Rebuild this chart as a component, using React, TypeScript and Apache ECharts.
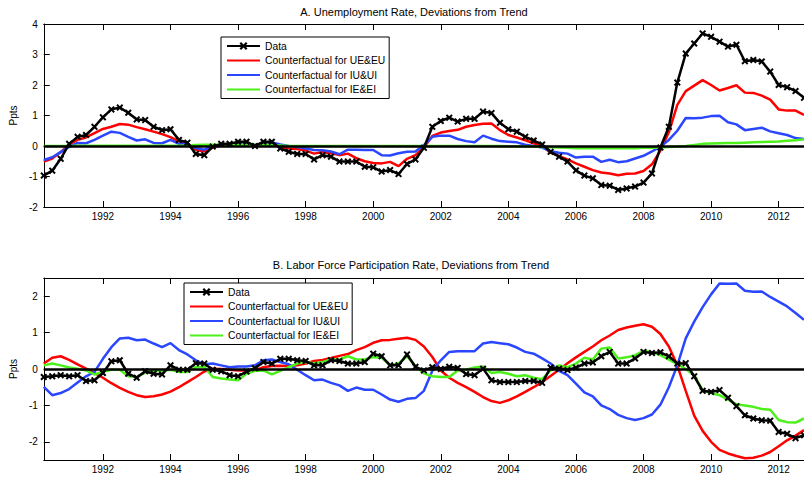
import React, { useEffect, useRef } from "react";
import * as echarts from "echarts";

const FONT = '"Liberation Sans", Arial, Helvetica, sans-serif';

// Quarterly observations, first quarter shown: 1990 Q2 (1990.25)
const START_YEAR = 1990.25;

const yearTicks = [1992, 1994, 1996, 1998, 2000, 2002, 2004, 2006, 2008, 2010, 2012];
const unempTicks = [-2, -1, 0, 1, 2, 3, 4];
const partTicks = [-2, -1, 0, 1, 2];

const seriesNames = [
  "Data",
  "Counterfactual for UE&EU",
  "Counterfactual for IU&UI",
  "Counterfactual for IE&EI",
];

const panelTitles = [
  "A. Unemployment Rate, Deviations from Trend",
  "B. Labor Force Participation Rate, Deviations from Trend",
];

// Panel A: unemployment rate
const unempData = [
  -0.97, -0.81, -0.42, 0.07, 0.3, 0.36, 0.63, 0.94, 1.2, 1.26,
  1.09, 0.87, 0.85, 0.63, 0.52, 0.55, 0.2, 0.11, -0.26, -0.3,
  -0.02, 0.07, 0.07, 0.14, 0.14, 0.0, 0.14, 0.14, -0.08, -0.19,
  -0.26, -0.26, -0.44, -0.3, -0.35, -0.51, -0.51, -0.51, -0.68, -0.7,
  -0.84, -0.79, -0.92, -0.59, -0.44, -0.06, 0.63, 0.82, 0.93, 0.8,
  0.89, 0.89, 1.13, 1.08, 0.76, 0.55, 0.47, 0.3, 0.18, 0.05,
  -0.19, -0.35, -0.51, -0.8, -0.97, -1.06, -1.28, -1.3, -1.44, -1.39,
  -1.33, -1.2, -0.9, -0.05, 0.63, 2.08, 3.03, 3.36, 3.69, 3.58,
  3.42, 3.26, 3.32, 2.78, 2.82, 2.77, 2.44, 2.0, 1.93, 1.8, 1.58,
];
const unempUE = [
  -0.51, -0.41, -0.2, 0.05, 0.2, 0.28, 0.42, 0.56, 0.63, 0.72,
  0.7, 0.62, 0.55, 0.47, 0.39, 0.29, 0.15, 0.08, -0.12, -0.18,
  -0.05, 0.02, 0.05, 0.08, 0.1, 0.02, 0.05, 0.05, -0.03, -0.08,
  -0.1, -0.15, -0.25, -0.2, -0.24, -0.3, -0.25, -0.4, -0.5, -0.56,
  -0.57, -0.52, -0.66, -0.42, -0.3, -0.05, 0.33, 0.44, 0.49, 0.53,
  0.63, 0.69, 0.73, 0.74, 0.52, 0.36, 0.28, 0.19, 0.09, 0.0,
  -0.22, -0.33, -0.44, -0.57, -0.68, -0.79, -0.87, -0.9, -0.96, -0.91,
  -0.9, -0.82, -0.6, -0.15, 0.45, 1.35, 1.8, 1.98, 2.16, 2.0,
  1.82, 1.9, 1.99, 1.75, 1.74, 1.65, 1.52, 1.2, 1.16, 1.16, 1.02,
];
const unempIU = [
  -0.46, -0.37, -0.2, -0.03, 0.1, 0.09, 0.2, 0.34, 0.47, 0.43,
  0.3, 0.18, 0.22, 0.1, 0.09, 0.2, 0.07, 0.07, -0.07, -0.12,
  -0.02, 0.02, 0.03, 0.05, 0.07, 0.03, 0.09, 0.12, 0.05, 0.0,
  -0.03, -0.08, -0.13, -0.14, -0.18, -0.27, -0.12, -0.12, -0.13, -0.13,
  -0.3, -0.31, -0.24, -0.19, -0.18, 0.03, 0.3, 0.34, 0.34, 0.23,
  0.16, 0.12, 0.34, 0.24, 0.16, 0.14, 0.12, 0.04, 0.0, -0.05,
  -0.17, -0.22, -0.25, -0.38, -0.35, -0.35, -0.52, -0.45, -0.53, -0.5,
  -0.41, -0.32, -0.18, -0.02, 0.2, 0.5, 0.92, 0.91, 0.93, 0.98,
  0.99, 0.78, 0.71, 0.52, 0.56, 0.6, 0.48, 0.42, 0.36, 0.26, 0.23,
];
const unempIE = [
  0, 0, 0, 0, 0.01, 0.01, 0.01, 0.01, 0.01, 0.01,
  0.01, 0.01, 0.01, 0.01, 0.01, 0.01, 0.01, 0.02, 0.03, 0.04,
  0.04, 0.04, 0.04, 0.04, 0.04, 0.04, 0.04, 0.03, 0.02, 0,
  0, 0, 0, 0, 0, 0, 0, 0, 0, 0,
  0, 0, 0, 0, 0, 0, 0, 0, 0, 0,
  0, 0, 0, 0, 0, -0.01, -0.01, -0.02, -0.02, -0.03,
  -0.04, -0.05, -0.06, -0.07, -0.07, -0.07, -0.07, -0.07, -0.07, -0.07,
  -0.07, -0.06, -0.06, -0.05, -0.03, -0.02, 0.0, 0.03, 0.07, 0.08,
  0.09, 0.1, 0.1, 0.11, 0.12, 0.13, 0.14, 0.15, 0.17, 0.19, 0.22,
];

// Panel B: labor force participation rate
const partData = [
  -0.22, -0.2, -0.17, -0.2, -0.17, -0.33, -0.31, -0.11, 0.21, 0.24,
  -0.13, -0.24, -0.06, -0.13, -0.15, 0.1, -0.02, -0.02, 0.16, 0.15,
  -0.02, -0.06, -0.17, -0.2, -0.07, 0.02, 0.19, 0.15, 0.28, 0.28,
  0.24, 0.22, 0.1, 0.1, 0.24, 0.22, 0.15, 0.15, 0.19, 0.42,
  0.35, 0.1, 0.1, 0.4, 0.06, -0.04, 0.05, 0.0, 0.06, 0.03,
  -0.14, -0.17, 0.01, -0.31, -0.36, -0.36, -0.36, -0.33, -0.33, -0.38,
  0.04, 0.01, -0.03, 0.04, 0.15, 0.18, 0.35, 0.47, 0.15, 0.15,
  0.29, 0.47, 0.44, 0.46, 0.35, 0.15, 0.16, -0.2, -0.6, -0.63,
  -0.58, -0.79, -1.02, -1.27, -1.36, -1.41, -1.42, -1.73, -1.78, -1.9, -1.82,
];
const partUE = [
  0.15, 0.31, 0.35, 0.25, 0.13, 0.01, -0.11, -0.24, -0.39, -0.52,
  -0.63, -0.72, -0.77, -0.75, -0.7, -0.62, -0.5, -0.36, -0.22, -0.07,
  0.01, 0.0, -0.02, -0.04, -0.04, -0.04, 0.05, 0.08, 0.09, 0.08,
  0.1, 0.15, 0.22, 0.25, 0.3, 0.36, 0.41, 0.52, 0.6, 0.72,
  0.79, 0.8, 0.83, 0.86, 0.8, 0.62, 0.33, -0.04, -0.24, -0.38,
  -0.5, -0.63, -0.77, -0.88, -0.93, -0.86, -0.75, -0.63, -0.5, -0.36,
  -0.19, -0.02, 0.16, 0.32, 0.47, 0.62, 0.79, 0.92, 1.07, 1.14,
  1.19, 1.23, 1.16, 0.96, 0.62, 0.1, -0.6, -1.28, -1.7, -2.0,
  -2.22, -2.32, -2.39, -2.45, -2.44, -2.38, -2.28, -2.12, -1.96, -1.83, -1.68,
];
const partIU = [
  -0.49, -0.72, -0.66, -0.55, -0.37, -0.2, -0.08, 0.28, 0.6, 0.84,
  0.86, 0.79, 0.81, 0.7, 0.6, 0.71, 0.52, 0.4, 0.24, 0.13,
  0.15, 0.1, 0.05, 0.07, 0.07, 0.1, 0.24, 0.26, 0.19, 0.13,
  -0.02, -0.17, -0.31, -0.29, -0.38, -0.45, -0.6, -0.51, -0.57, -0.57,
  -0.7, -0.84, -0.9, -0.82, -0.8, -0.6, -0.05, 0.24, 0.47, 0.49,
  0.49, 0.49, 0.7, 0.74, 0.71, 0.68, 0.59, 0.47, 0.42, 0.29,
  0.15, -0.05, -0.17, -0.4, -0.64, -0.75, -1.0, -1.1, -1.26, -1.35,
  -1.4, -1.35, -1.25, -0.98, -0.5, 0.1, 0.84, 1.3, 1.7, 2.05,
  2.35, 2.34, 2.35, 2.15, 2.12, 2.13, 1.98, 1.85, 1.72, 1.54, 1.35,
];
const partIE = [
  0.1, 0.15, 0.1, 0.04, 0.01, -0.04, -0.15, -0.08, -0.02, -0.02,
  -0.2, -0.22, -0.1, -0.05, -0.05, -0.02, -0.08, -0.08, 0.05, 0.06,
  -0.22, -0.26, -0.29, -0.31, -0.13, -0.05, -0.04, -0.15, -0.05, 0.05,
  0.15, 0.19, 0.16, 0.19, 0.26, 0.26, 0.35, 0.26, 0.26, 0.33,
  0.31, 0.1, 0.15, 0.35, 0.08, -0.12, -0.2, -0.22, -0.22, -0.04,
  -0.02, 0.04, 0.07, -0.11, -0.08, -0.13, -0.2, -0.17, -0.24, -0.28,
  -0.04, 0.1, 0.05, 0.15, 0.31, 0.26, 0.56, 0.59, 0.29, 0.32,
  0.38, 0.5, 0.46, 0.38, 0.26, 0.13, 0.0, -0.17, -0.58, -0.66,
  -0.72, -0.84, -0.97, -1.0, -1.04, -1.1, -1.12, -1.4, -1.46, -1.47, -1.36,
];

const COLORS = { data: "#000000", ue: "#ff0000", iu: "#2a46ff", ie: "#4cf01a" };
const X_SYMBOL =
  "path://M0,2L2,0L5,3L8,0L10,2L7,5L10,8L8,10L5,7L2,10L0,8L3,5Z";

const toPairs = (vals: number[]) => vals.map((v, i) => [START_YEAR + i / 4, v]);

function buildSeries(idx: number, d: number[], ue: number[], iu: number[], ie: number[]) {
  const base = { type: "line", xAxisIndex: idx * 2, yAxisIndex: idx, silent: true };
  const colored = (name: string, vals: number[], color: string) => ({
    ...base,
    name,
    data: toPairs(vals),
    symbol: "circle",
    showSymbol: false,
    lineStyle: { color, width: 2.5 },
    itemStyle: { color, opacity: 0 },
  });
  return [
    colored(seriesNames[1], ue, COLORS.ue),
    colored(seriesNames[2], iu, COLORS.iu),
    colored(seriesNames[3], ie, COLORS.ie),
    {
      ...base,
      name: seriesNames[0],
      data: toPairs(d),
      symbol: X_SYMBOL,
      symbolSize: 7,
      showSymbol: true,
      lineStyle: { color: COLORS.data, width: 2.5 },
      itemStyle: { color: COLORS.data },
      markLine: {
        silent: true,
        symbol: ["none", "none"],
        label: { show: false },
        lineStyle: { color: "#000", width: 2.5, type: "solid" },
        data: [{ yAxis: 0 }],
      },
    },
  ];
}

function xAxes(gridIndex: number) {
  const common = {
    type: "value",
    gridIndex,
    min: 1990.25,
    max: 2012.75,
    splitLine: { show: false },
    axisLine: { show: true, onZero: false, lineStyle: { color: "#000", width: 1 } },
    axisTick: { show: true, inside: true, length: 6, customValues: yearTicks, lineStyle: { color: "#000" } },
  };
  return [
    {
      ...common,
      position: "bottom",
      axisLabel: {
        show: true,
        customValues: yearTicks,
        formatter: (v: number) => String(v),
        margin: 4,
        fontSize: 10,
        color: "#000",
        fontFamily: FONT,
      },
    },
    { ...common, position: "top", axisLabel: { show: false } },
  ];
}

function yAxis(gridIndex: number, min: number, max: number, ticks: number[]) {
  return {
    type: "value",
    gridIndex,
    min,
    max,
    name: "Ppts",
    nameLocation: "middle",
    nameGap: 15,
    nameRotate: 90,
    nameTextStyle: { fontSize: 10, color: "#000", fontFamily: FONT },
    splitLine: { show: false },
    axisLine: { show: true, onZero: false, lineStyle: { color: "#000", width: 1 } },
    axisTick: { show: true, inside: true, length: 6, customValues: ticks, lineStyle: { color: "#000" } },
    axisLabel: {
      customValues: ticks,
      formatter: (v: number) => String(v),
      margin: 6,
      fontSize: 10,
      color: "#000",
      fontFamily: FONT,
    },
  };
}

function legendAt(left: number, top: number) {
  return {
    orient: "vertical",
    left,
    top,
    data: seriesNames,
    itemWidth: 33,
    itemHeight: 10,
    itemGap: 4.5,
    padding: [4, 4, 4, 5],
    borderColor: "#000",
    borderWidth: 1,
    backgroundColor: "#fff",
    selectedMode: false,
    textStyle: { fontSize: 10.3, color: "#000", fontFamily: FONT },
    z: 10,
  };
}

export default function App() {
  const ref = useRef<HTMLDivElement>(null);
  useEffect(() => {
    if (!ref.current) return;
    const chart = echarts.init(ref.current, undefined, { renderer: "svg" });
    chart.setOption({
      animation: false,
      backgroundColor: "#fff",
      grid: [
        { left: 41, top: 24, right: 0, height: 183 },
        { left: 41, top: 278, right: 0, height: 182 },
      ],
      xAxis: [...xAxes(0), ...xAxes(1)],
      yAxis: [yAxis(0, -2, 4, unempTicks), yAxis(1, -2.5, 2.5, partTicks)],
      legend: [legendAt(221, 37), legendAt(184, 283)],
      graphic: [
        {
          type: "text",
          x: 414,
          y: 12,
          style: { text: panelTitles[0], fontSize: 11, fontFamily: FONT, fill: "#000", textAlign: "center", textVerticalAlign: "middle" },
        },
        {
          type: "text",
          x: 411,
          y: 265,
          style: { text: panelTitles[1], fontSize: 11, fontFamily: FONT, fill: "#000", textAlign: "center", textVerticalAlign: "middle" },
        },
      ],
      series: [
        ...buildSeries(0, unempData, unempUE, unempIU, unempIE),
        ...buildSeries(1, partData, partUE, partIU, partIE),
      ],
    });
    return () => chart.dispose();
  }, []);
  return (
    <div
      ref={ref}
      style={{ position: "absolute", left: 0, top: 0, width: 804, height: 478, background: "#fff" }}
    />
  );
}
